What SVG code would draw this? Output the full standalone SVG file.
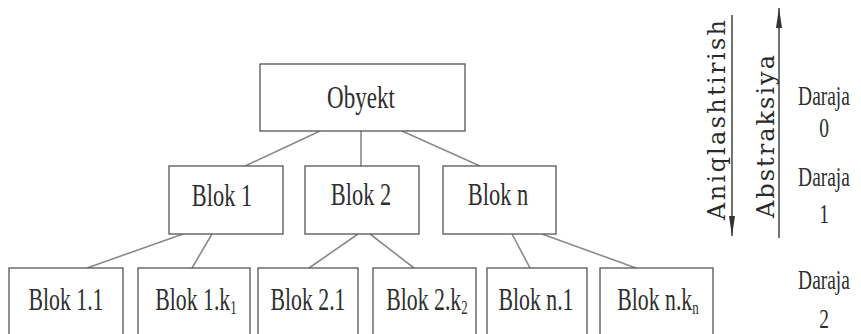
<svg xmlns="http://www.w3.org/2000/svg" width="861" height="334" viewBox="0 0 861 334">
<defs>
<style>
.box{fill:#ffffff;stroke:#555555;stroke-width:1.3}
.lbl{font-family:"Liberation Serif","Times New Roman",serif;font-size:32px;fill:#2e2e2e;text-anchor:middle}
.sub{font-size:19px}
.con{stroke:#8a8a8a;stroke-width:1.6;fill:none}
.axis{stroke:#444444;stroke-width:1.5;fill:none}
.rot{font-family:"DejaVu Serif","Liberation Serif",serif;font-size:24px;fill:#2a2a2a}
.lvl{font-family:"Liberation Serif","Times New Roman",serif;font-size:27px;fill:#2e2e2e;text-anchor:middle}
</style>
<marker id="arr" viewBox="0 0 20 6" refX="20" refY="3" markerWidth="20" markerHeight="6" markerUnits="userSpaceOnUse" orient="auto">
<path d="M0,0 L20,3 L0,6 z" fill="#333333"/>
</marker>
</defs>
<rect width="861" height="334" fill="#ffffff"/>

<g id="connectors">
<line class="con" x1="320" y1="131" x2="245" y2="166"/>
<line class="con" x1="361" y1="131" x2="361" y2="166"/>
<line class="con" x1="402" y1="131" x2="480" y2="166"/>
<line class="con" x1="183" y1="234" x2="87" y2="268"/>
<line class="con" x1="212" y1="234" x2="192" y2="268"/>
<line class="con" x1="358" y1="234" x2="309" y2="268"/>
<line class="con" x1="370" y1="234" x2="414" y2="268"/>
<line class="con" x1="512" y1="234" x2="530" y2="268"/>
<line class="con" x1="542" y1="234" x2="636" y2="268"/>
</g>

<g id="obyekt">
<rect class="box" x="260" y="64" width="205" height="67"/>
<text class="lbl" transform="translate(361,108) scale(0.72,1)">Obyekt</text>
</g>

<g id="blok1">
<rect class="box" x="169" y="166" width="114" height="68"/>
<text class="lbl" transform="translate(222,206) scale(0.7,1)">Blok 1</text>
</g>
<g id="blok2">
<rect class="box" x="305" y="166" width="114" height="68"/>
<text class="lbl" transform="translate(361,205) scale(0.7,1)">Blok 2</text>
</g>
<g id="blokn">
<rect class="box" x="443" y="166" width="113" height="68"/>
<text class="lbl" transform="translate(498,205) scale(0.7,1)">Blok n</text>
</g>

<g id="blok11">
<rect class="box" x="9" y="268" width="114" height="80"/>
<text class="lbl" transform="translate(66,310) scale(0.68,1)">Blok 1.1</text>
</g>
<g id="blok1k1">
<rect class="box" x="138" y="268" width="112" height="80"/>
<text class="lbl" transform="translate(196,310) scale(0.68,1)">Blok 1.k<tspan class="sub" dy="4">1</tspan></text>
</g>
<g id="blok21">
<rect class="box" x="258" y="268" width="100" height="80"/>
<text class="lbl" transform="translate(308,310) scale(0.68,1)">Blok 2.1</text>
</g>
<g id="blok2k2">
<rect class="box" x="373" y="268" width="103" height="80"/>
<text class="lbl" transform="translate(427,310) scale(0.68,1)">Blok 2.k<tspan class="sub" dy="4">2</tspan></text>
</g>
<g id="blokn1">
<rect class="box" x="487" y="268" width="100" height="80"/>
<text class="lbl" transform="translate(536,310) scale(0.68,1)">Blok n.1</text>
</g>
<g id="bloknkn">
<rect class="box" x="600" y="268" width="113" height="80"/>
<text class="lbl" transform="translate(658,310) scale(0.68,1)">Blok n.k<tspan class="sub" dy="4">n</tspan></text>
</g>

<g id="aniqlashtirish">
<line class="axis" x1="732" y1="15" x2="732" y2="236" marker-end="url(#arr)"/>
<text class="rot" transform="translate(725,220) rotate(-90)" textLength="200" lengthAdjust="spacing">Aniqlashtirish</text>
</g>
<g id="abstraksiya">
<line class="axis" x1="779" y1="238" x2="779" y2="8" marker-end="url(#arr)"/>
<text class="rot" transform="translate(774,218) rotate(-90)" textLength="163" lengthAdjust="spacing">Abstraksiya</text>
</g>

<g id="daraja0">
<text class="lvl" transform="translate(824,105) scale(0.72,1)">Daraja</text>
<text class="lvl" transform="translate(824,137) scale(0.72,1)">0</text>
</g>
<g id="daraja1">
<text class="lvl" transform="translate(824,186) scale(0.72,1)">Daraja</text>
<text class="lvl" transform="translate(824,223) scale(0.72,1)">1</text>
</g>
<g id="daraja2">
<text class="lvl" transform="translate(824,289) scale(0.72,1)">Daraja</text>
<text class="lvl" transform="translate(824,328) scale(0.72,1)">2</text>
</g>
</svg>
